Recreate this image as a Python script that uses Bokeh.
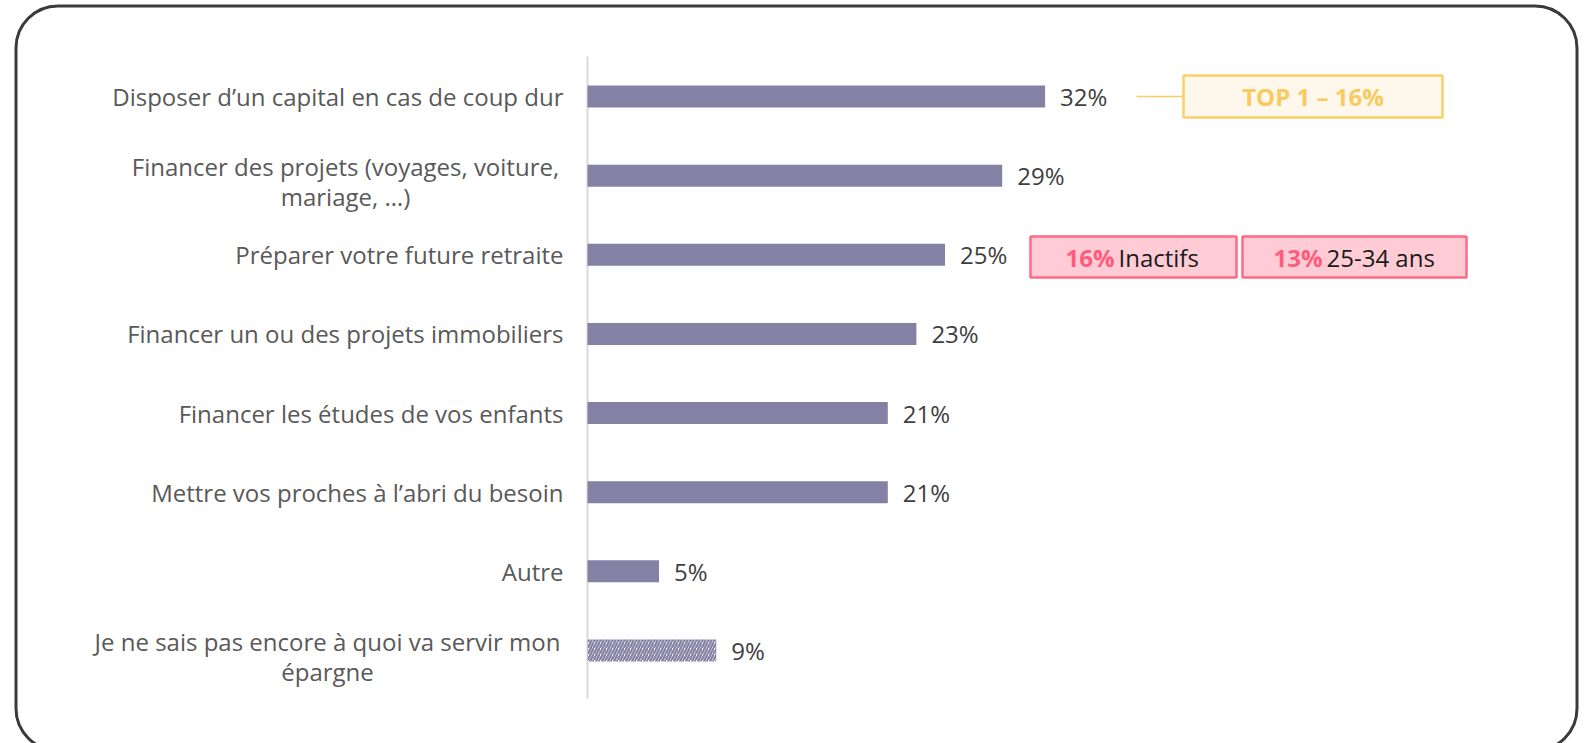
from bokeh.plotting import figure
from bokeh.models import Range1d, ColumnDataSource
from bokeh.embed import file_html
from bokeh.resources import INLINE
from bokeh.core.properties import value

# ---------------- data ----------------
categories = [
    "Disposer d’un capital en cas de coup dur",
    "Financer des projets (voyages, voiture,\nmariage, …)",
    "Préparer votre future retraite",
    "Financer un ou des projets immobiliers",
    "Financer les études de vos enfants",
    "Mettre vos proches à l’abri du besoin",
    "Autre",
    "Je ne sais pas encore à quoi va servir mon\népargne",
]
values = [32, 29, 25, 23, 21, 21, 5, 9]
hatched = [False, False, False, False, False, False, False, True]

top_note = "TOP 1 – 16%"
top_note_row = 0
sub_pcts = ["16%", "13%"]
sub_groups = ["Inactifs", "25-34 ans"]
sub_row = 2

# ---------------- geometry helpers ----------------
W, H = 1588, 743
X0, PX = 587.0, 14.3      # canvas x of the axis, px per percent
Y0, ROW = 96.0, 79.14     # canvas y of first row, px per row

def dx(px):
    return (px - X0) / PX

def dy(py):
    return (py - Y0) / ROW

FONT = value("Open Sans")
BAR = "#8581A4"
FS = "24px"

p = figure(width=W, height=H, output_backend="svg", toolbar_location=None,
           x_range=Range1d(dx(0), dx(W)), y_range=Range1d(dy(H), dy(0)),
           x_axis_type=None, y_axis_type=None, min_border=0,
           outline_line_color=None, background_fill_color="white",
           border_fill_color="white")
p.grid.visible = False

# outer rounded frame
p.quad(left=dx(15.5), right=dx(1576.5), top=dy(5.5), bottom=dy(750),
       fill_color=None, line_color="#3A3A3A", line_width=3, border_radius=42)

# axis line
p.segment(x0=0, y0=dy(56), x1=0, y1=dy(698), line_color="#D9D9D9", line_width=2)

idx = list(range(len(categories)))
solid = ColumnDataSource(dict(y=[i for i in idx if not hatched[i]],
                              v=[values[i] for i in idx if not hatched[i]]))
hat = ColumnDataSource(dict(y=[i for i in idx if hatched[i]],
                            v=[values[i] for i in idx if hatched[i]]))

BH = 22 / ROW
p.hbar(y="y", left=0, right="v", height=BH, source=solid,
       fill_color=BAR, line_color=None)
p.hbar(y="y", left=0, right="v", height=BH, source=hat,
       fill_color="white", line_color=None, hatch_pattern="/",
       hatch_color=BAR, hatch_scale=6, hatch_weight=2.3)

# value labels
p.text(x=values, y=idx, text=[f"{v}%" for v in values], x_offset=15,
       text_baseline="middle", text_align="left", text_font=FONT,
       text_font_size=FS, text_color="#404040")

# category labels
single = [i for i in idx if "\n" not in categories[i]]
multi = [i for i in idx if "\n" in categories[i]]
p.text(x=[dx(563)] * len(single), y=single, text=[categories[i] for i in single],
       text_align="right", text_baseline="middle", text_font=FONT,
       text_font_size=FS, text_color="#595959")
multi_cx = {1: dx(345), 7: dx(327)}
p.text(x=[multi_cx[i] for i in multi], y=multi, text=[categories[i] for i in multi],
       y_offset=6, text_align="center", text_baseline="middle", text_font=FONT,
       text_font_size=FS, text_color="#595959", text_line_height=0.93)

# TOP 1 callout
hb = 21 / ROW
p.segment(x0=dx(1136), y0=top_note_row, x1=dx(1183), y1=top_note_row,
          line_color="#F9CF62", line_width=1.5)
p.quad(left=dx(1183), right=dx(1442), top=top_note_row - hb, bottom=top_note_row + hb,
       fill_color="#FDF7EC", line_color="#FAD06A", line_width=2.5)
p.text(x=[dx((1183 + 1442) / 2)], y=[top_note_row], text=[top_note],
       text_align="center", text_baseline="middle", text_font=FONT,
       text_font_style="bold", text_font_size=FS, text_color="#F8CA60")

# pink callouts
boxes = [(1030, 1236, 1114), (1242, 1466, 1322)]
for (l, r, split), pct, grp in zip(boxes, sub_pcts, sub_groups):
    p.quad(left=dx(l), right=dx(r), top=dy(236), bottom=dy(277),
           fill_color="#FFCCD6", line_color="#FF6A86", line_width=2.5)
    p.text(x=[dx(split)], y=[dy(256.5)], text=[pct], text_align="right",
           text_baseline="middle", text_font=FONT, text_font_style="bold",
           text_font_size=FS, text_color="#FF5C7C")
    p.text(x=[dx(split + 4)], y=[dy(256.5)], text=[grp], text_align="left",
           text_baseline="middle", text_font=FONT,
           text_font_size=FS, text_color="#1A1A1A")

open("out.html", "w").write(file_html(p, INLINE))
